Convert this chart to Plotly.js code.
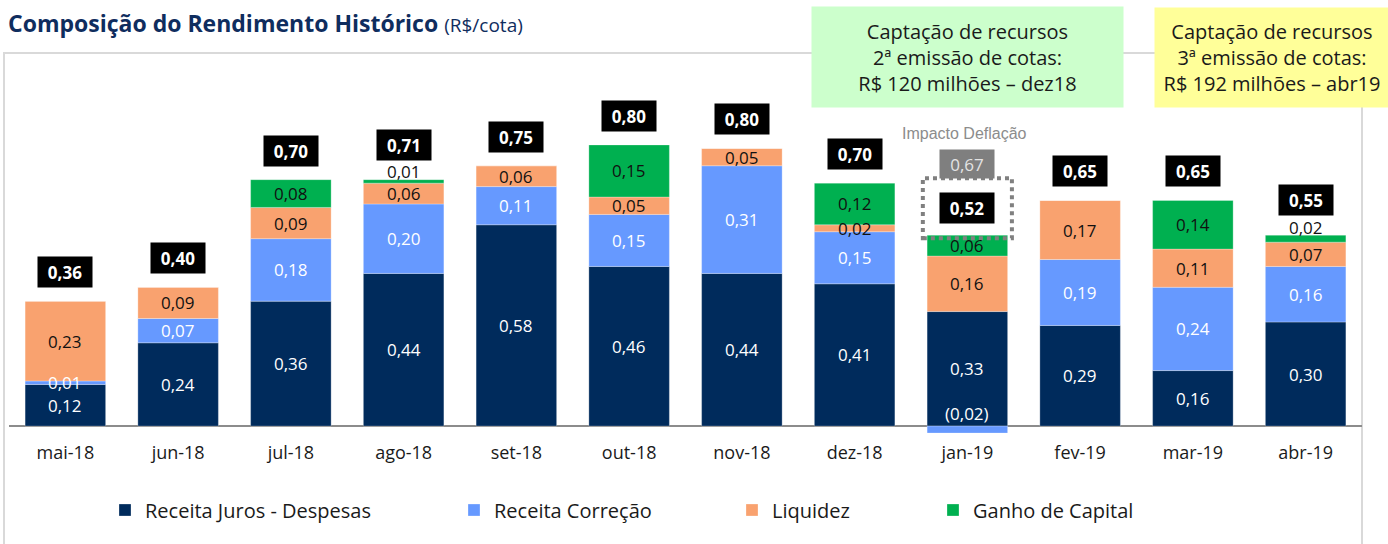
<!DOCTYPE html>
<html>
<head>
<meta charset="utf-8">
<script src="https://cdn.plot.ly/plotly-3.0.1.min.js"></script>
<style>html,body{margin:0;padding:0;background:#fff;}#chart{width:1388px;height:544px;}</style>
</head>
<body>
<div id="chart"></div>
<script>
// ---- data ----
const categories = ['mai-18','jun-18','jul-18','ago-18','set-18','out-18','nov-18','dez-18','jan-19','fev-19','mar-19','abr-19'];
const receitaJuros = [0.12,0.24,0.36,0.44,0.58,0.46,0.44,0.41,0.33,0.29,0.16,0.30];
const receitaCorrecao = [0.01,0.07,0.18,0.20,0.11,0.15,0.31,0.15,-0.02,0.19,0.24,0.16];
const liquidez = [0.23,0.09,0.09,0.06,0.06,0.05,0.05,0.02,0.16,0.17,0.11,0.07];
const ganhoCapital = [0,0,0.08,0.01,0,0.15,0,0.12,0.06,0,0.14,0.02];
const totals = [0.36,0.40,0.70,0.71,0.75,0.80,0.80,0.70,0.52,0.65,0.65,0.55];
const seriesNames = ['Receita Juros - Despesas','Receita Correção','Liquidez','Ganho de Capital'];
const deflationCategory = 'jan-19';
const totalBeforeDeflation = 0.67;
const deflationLabel = 'Impacto Deflação';
const noteBoxes = [
  'Captação de recursos<br>2ª emissão de cotas:<br>R$ 120 milhões – dez18',
  'Captação de recursos<br>3ª emissão de cotas:<br>R$ 192 milhões – abr19'
];

// ---- styles / layout geometry ----
const W = 1388, H = 544;
const M = {l: 9, r: 26, t: 79, b: 104};
const plotW = W - M.l - M.r, plotH = H - M.t - M.b;
const yRange = [-0.04, 1.0];
const pxPerUnit = plotH / (yRange[1] - yRange[0]);
const px2pX = px => (px - M.l) / plotW;
const px2pY = py => (H - M.b - py) / plotH;
const colors = ['#002B5C', '#6699FF', '#F9A26F', '#00B050'];
const labelColors = ['#FFFFFF', '#FFFFFF', '#111111', '#111111'];
const FONT = '"Open Sans", "Noto Sans", sans-serif';
const series = [receitaJuros, receitaCorrecao, liquidez, ganhoCapital];

const fmt = v => (v < 0 ? '(' + (-v).toFixed(2).replace('.', ',') + ')' : v.toFixed(2).replace('.', ','));

const traces = series.map((vals, i) => ({
  type: 'bar', x: categories, y: vals, name: seriesNames[i],
  marker: {color: colors[i], line: {color: 'rgba(255,255,255,0.35)', width: 0.8}},
  legend: i === 0 ? 'legend' : 'legend' + (i + 1),
  hoverinfo: 'skip'
}));

const annotations = [];
const shapes = [];
const posTop = categories.map((c, j) => series.reduce((s, arr) => s + (arr[j] > 0 ? arr[j] : 0), 0));

categories.forEach((cat, j) => {
  let base = 0;
  let labelAbove = false;
  series.forEach((arr, i) => {
    const v = arr[j];
    if (v === 0) return;
    if (v < 0) {
      annotations.push({x: cat, y: 0, xref: 'x', yref: 'y', text: fmt(v), showarrow: false,
        yanchor: 'bottom', yshift: -1, font: {family: FONT, size: 17, color: labelColors[0]}});
      return;
    }
    const isTop = series.slice(i + 1).every(a => a[j] <= 0);
    if (isTop && v < 0.03) {
      labelAbove = true;
      annotations.push({x: cat, y: base + v, xref: 'x', yref: 'y', text: fmt(v), showarrow: false,
        yanchor: 'middle', yshift: 8, font: {family: FONT, size: 17, color: '#111111'}});
    } else {
      annotations.push({x: cat, y: base + v / 2, xref: 'x', yref: 'y', text: fmt(v), showarrow: false,
        yanchor: 'middle', font: {family: FONT, size: 17, color: labelColors[i]}});
    }
    base += v;
  });
  const isDefl = cat === deflationCategory;
  annotations.push({x: cat, y: posTop[j], xref: 'x', yref: 'y', text: '<b>' + fmt(totals[j]) + '</b>',
    showarrow: false, yanchor: 'middle', yshift: isDefl ? 27 : (labelAbove ? 35 : 29), width: 54, height: 30,
    bgcolor: '#000000', borderpad: 0, font: {family: FONT, size: 17, color: '#FFFFFF'}});
  if (isDefl) {
    annotations.push({x: cat, y: posTop[j], xref: 'x', yref: 'y', text: fmt(totalBeforeDeflation),
      showarrow: false, yanchor: 'middle', yshift: 71, width: 54, height: 28,
      bgcolor: '#7F7F7F', borderpad: 0, font: {family: FONT, size: 17, color: '#E4E4E4'}});
    annotations.push({x: cat, y: posTop[j], xref: 'x', yref: 'y', text: deflationLabel,
      showarrow: false, yanchor: 'middle', yshift: 102, xshift: -3,
      font: {family: '"Liberation Sans", Arial, sans-serif', size: 16, color: '#8C8C8C'}});
    shapes.push({type: 'rect', xref: 'x', yref: 'y', x0: j - 0.395, x1: j + 0.395,
      y0: posTop[j] - 3 / pxPerUnit, y1: posTop[j] + 57 / pxPerUnit,
      line: {color: '#808080', width: 4, dash: 'dot'}, fillcolor: 'rgba(0,0,0,0)', layer: 'above'});
  }
});

// note boxes
const boxGeo = [
  {cx: 967.5, cy: 57, w: 311, h: 100, bg: '#CCFFCC'},
  {cx: 1272, cy: 57.5, w: 234, h: 99, bg: '#FFFF99'}
];
noteBoxes.forEach((t, k) => {
  const g = boxGeo[k];
  annotations.push({xref: 'paper', yref: 'paper', x: px2pX(g.cx), y: px2pY(g.cy), xanchor: 'center', yanchor: 'middle',
    text: t, showarrow: false, width: g.w, height: g.h, bgcolor: g.bg, borderpad: 0, align: 'center',
    font: {family: FONT, size: 20, color: '#1A1A1A'}});
});

// frame
shapes.unshift({type: 'rect', xref: 'paper', yref: 'paper', x0: px2pX(4), x1: px2pX(1362), y0: px2pY(560), y1: px2pY(53),
  line: {color: '#D9D9D9', width: 2}, fillcolor: 'rgba(0,0,0,0)', layer: 'below'});

const legendText = [145, 494, 772, 973];
const mkLegend = k => ({x: (legendText[k] - 40) / W, xref: 'container', xanchor: 'left', y: 1 - 510 / H, yref: 'container',
  yanchor: 'middle', orientation: 'h', bgcolor: 'rgba(0,0,0,0)', borderwidth: 0, itemwidth: 30,
  font: {family: FONT, size: 20, color: '#1A1A1A'}});

const layout = {
  width: W, height: H, margin: M, paper_bgcolor: '#FFFFFF', plot_bgcolor: 'rgba(0,0,0,0)',
  barmode: 'relative', bargap: 0.286, separators: ',.',
  showlegend: true,
  title: {text: '<b>Composição do Rendimento Histórico</b> <span style="font-size:19px;font-weight:normal">(R$/cota)</span>',
    x: 8 / W, xref: 'container', xanchor: 'left', y: 1 - 24 / H, yref: 'container', yanchor: 'middle',
    font: {family: FONT, size: 23, color: '#0F2D5E'}},
  xaxis: {type: 'category', range: [-0.5, categories.length - 0.5], showgrid: false, showline: false, ticks: '',
    tickfont: {family: FONT, size: 18, color: '#1A1A1A'}, fixedrange: true},
  yaxis: {range: yRange, showgrid: false, showticklabels: false, ticks: '', showline: false,
    zeroline: true, zerolinecolor: '#8C8C8C', zerolinewidth: 2, fixedrange: true},
  legend: mkLegend(0), legend2: mkLegend(1), legend3: mkLegend(2), legend4: mkLegend(3),
  annotations: annotations, shapes: shapes
};

Plotly.newPlot('chart', traces, layout, {displayModeBar: false, staticPlot: true});
</script>
</body>
</html>
